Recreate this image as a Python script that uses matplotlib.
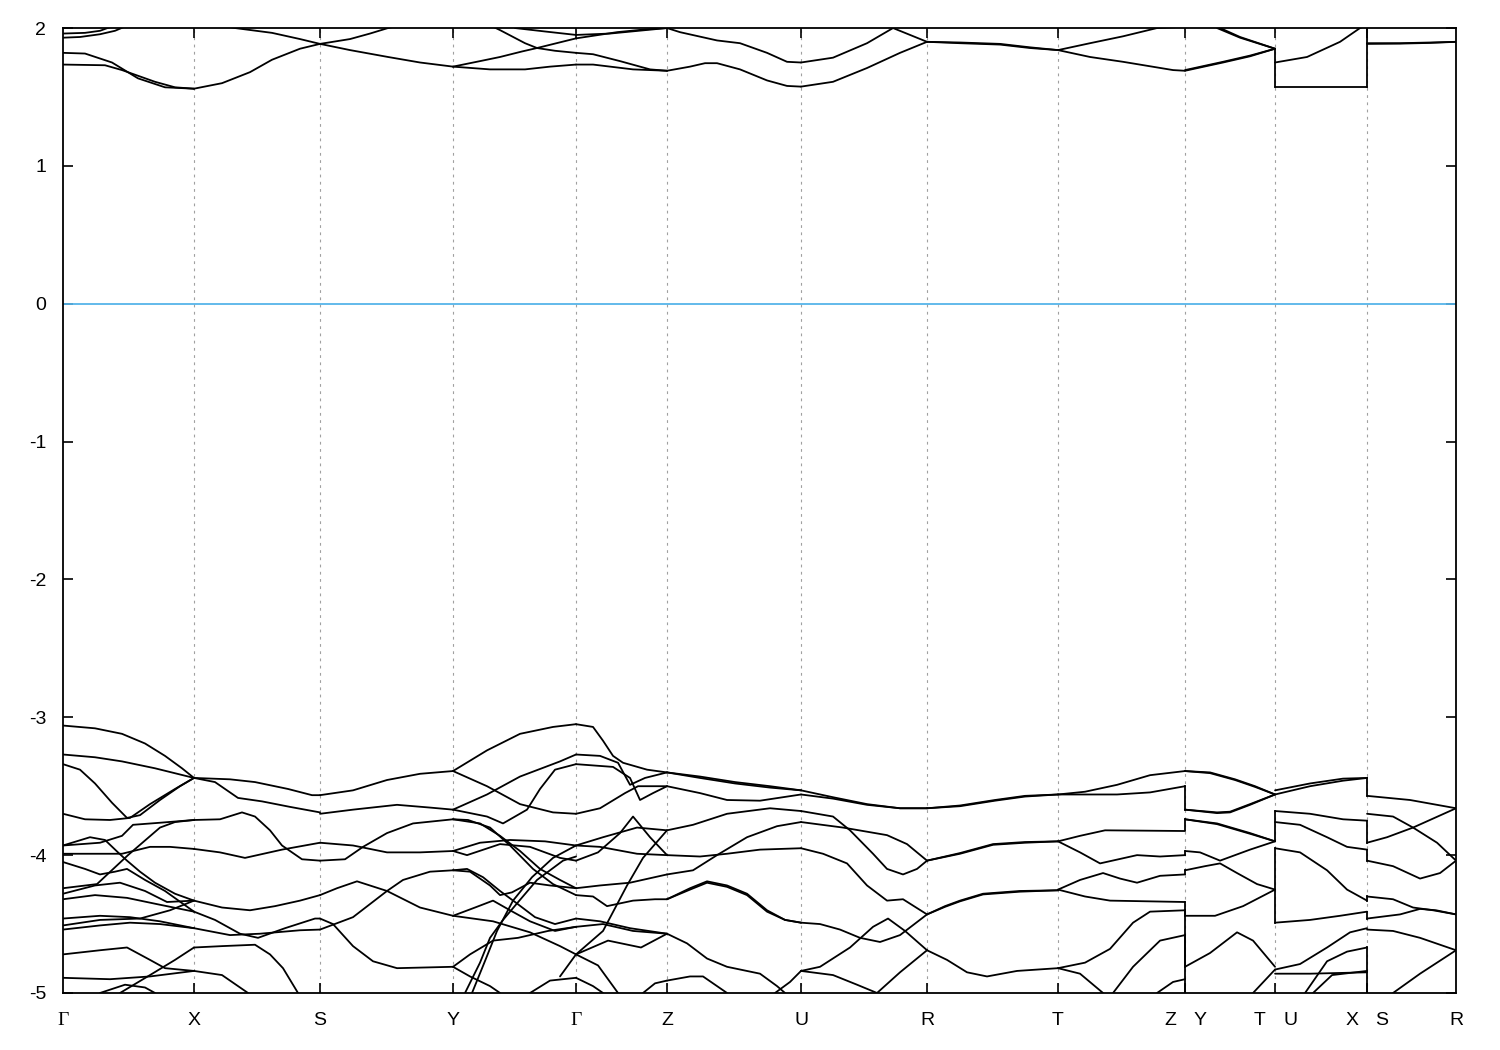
import matplotlib
matplotlib.use('Agg')
import matplotlib.pyplot as plt

# high-symmetry points along the k-path (path length units)
kpoints = [0.0, 1.31, 2.57, 3.90, 5.13, 6.04, 7.38, 8.64, 9.95, 11.22, 12.12, 13.04, 13.93]
klabels = ['Γ', 'X', 'S', 'Y', 'Γ', 'Z', 'U', 'R', 'T', 'Z|Y', 'T|U', 'X|S', 'R']

# bands per path segment, each band a list of (k, E)
bands_GX = [
    [(0, 1.96), (0.22, 1.965), (0.37, 1.98), (0.52, 2.02)],
    [(0, 1.93), (0.17, 1.935), (0.37, 1.955), (0.52, 1.98), (0.65, 2.02)],
    [(0, 1.82), (0.22, 1.815), (0.49, 1.75), (0.75, 1.635), (1.02, 1.57), (1.31, 1.56)],
    [(0, 1.735), (0.42, 1.73), (0.59, 1.695), (0.92, 1.61), (1.12, 1.57), (1.31, 1.56)],
    [(0, -3.06), (0.32, -3.08), (0.59, -3.12), (0.82, -3.19), (1.02, -3.28), (1.19, -3.37), (1.31, -3.44)],
    [(0, -3.27), (0.32, -3.29), (0.59, -3.32), (0.92, -3.37), (1.31, -3.44)],
    [(0, -3.34), (0.17, -3.38), (0.32, -3.48), (0.49, -3.62), (0.64, -3.73), (0.77, -3.71),
     (0.97, -3.60), (1.17, -3.50), (1.31, -3.44)],
    [(0, -3.70), (0.22, -3.74), (0.47, -3.745), (0.67, -3.73), (0.87, -3.63), (1.12, -3.52), (1.31, -3.44)],
    [(0, -3.93), (0.37, -3.91), (0.59, -3.86), (0.70, -3.78), (0.97, -3.765), (1.31, -3.745)],
    [(0, -4.24), (0.34, -4.21), (0.65, -4.00), (0.97, -3.80), (1.12, -3.76), (1.31, -3.745)],
    [(0, -3.93), (0.27, -3.87), (0.42, -3.89), (0.55, -3.98), (0.64, -4.04), (0.77, -4.12),
     (0.92, -4.20), (1.12, -4.28), (1.31, -4.33)],
    [(0, -3.99), (0.37, -3.99), (0.59, -3.99), (0.87, -3.94), (1.07, -3.94), (1.31, -3.955)],
    [(0, -4.05), (0.22, -4.10), (0.37, -4.14), (0.52, -4.12), (0.64, -4.10), (0.82, -4.18),
     (1.02, -4.26), (1.31, -4.41)],
    [(0, -4.28), (0.32, -4.22), (0.57, -4.20), (0.82, -4.26), (1.04, -4.34), (1.31, -4.33)],
    [(0, -4.32), (0.32, -4.29), (0.64, -4.31), (0.97, -4.36), (1.31, -4.41)],
    [(0, -4.46), (0.37, -4.44), (0.67, -4.45), (0.97, -4.48), (1.31, -4.53)],
    [(0, -4.51), (0.37, -4.47), (0.77, -4.46), (1.07, -4.40), (1.31, -4.33)],
    [(0, -4.54), (0.37, -4.51), (0.67, -4.49), (0.97, -4.50), (1.31, -4.53)],
    [(0, -4.72), (0.37, -4.69), (0.64, -4.67), (0.87, -4.76), (1.02, -4.82), (1.31, -4.84)],
    [(0.57, -5.0), (0.87, -4.87), (1.12, -4.76), (1.31, -4.67)],
    [(0, -4.89), (0.47, -4.90), (0.87, -4.88), (1.31, -4.84)],
    [(0.37, -5.0), (0.62, -4.94), (0.82, -4.96), (0.92, -5.0)],
]

bands_XS = [
    [(1.31, 1.56), (1.59, 1.60), (1.87, 1.68), (2.09, 1.77), (2.37, 1.85), (2.57, 1.885)],
    [(1.57, 2.02), (1.72, 2.0), (2.09, 1.965), (2.37, 1.92), (2.57, 1.885)],
    [(1.31, -3.44), (1.67, -3.45), (1.92, -3.47), (2.25, -3.52), (2.49, -3.565), (2.57, -3.565)],
    [(1.31, -3.44), (1.52, -3.47), (1.75, -3.585), (1.99, -3.61), (2.27, -3.65), (2.57, -3.69)],
    [(1.31, -3.745), (1.57, -3.74), (1.79, -3.69), (1.92, -3.72), (2.07, -3.82), (2.19, -3.93),
     (2.39, -4.03), (2.57, -4.04)],
    [(1.31, -3.955), (1.57, -3.98), (1.82, -4.02), (2.19, -3.96), (2.57, -3.91)],
    [(1.31, -4.33), (1.59, -4.38), (1.87, -4.40), (2.12, -4.37), (2.37, -4.33), (2.57, -4.29)],
    [(1.31, -4.41), (1.52, -4.47), (1.77, -4.57), (1.95, -4.60), (2.22, -4.53), (2.52, -4.46), (2.57, -4.46)],
    [(1.31, -4.53), (1.67, -4.58), (1.97, -4.57), (2.37, -4.545), (2.57, -4.54)],
    [(1.31, -4.67), (1.59, -4.66), (1.92, -4.65), (2.07, -4.72), (2.20, -4.82), (2.35, -5.0)],
    [(1.31, -4.84), (1.59, -4.87), (1.85, -5.0)],
]

bands_SY = [
    [(2.57, 1.885), (2.87, 1.92), (3.07, 1.96), (3.25, 2.0), (3.37, 2.02)],
    [(2.57, 1.885), (2.87, 1.84), (3.25, 1.79), (3.57, 1.75), (3.90, 1.72)],
    [(2.57, -3.565), (2.90, -3.53), (3.24, -3.455), (3.57, -3.41), (3.90, -3.39)],
    [(2.57, -3.70), (2.90, -3.67), (3.34, -3.635), (3.67, -3.655), (3.90, -3.67)],
    [(2.57, -3.91), (2.90, -3.93), (3.24, -3.98), (3.57, -3.98), (3.90, -3.97)],
    [(2.57, -4.04), (2.82, -4.03), (3.00, -3.94), (3.24, -3.84), (3.50, -3.77), (3.90, -3.74)],
    [(2.57, -4.29), (2.74, -4.24), (2.94, -4.19), (3.24, -4.26), (3.57, -4.38), (3.90, -4.44)],
    [(2.57, -4.54), (2.90, -4.45), (3.24, -4.26), (3.40, -4.18), (3.67, -4.12), (3.90, -4.11)],
    [(2.57, -4.46), (2.70, -4.50), (2.90, -4.66), (3.10, -4.77), (3.34, -4.82), (3.90, -4.81)],
]

bands_YG = [
    [(3.90, 1.72), (4.17, 1.76), (4.37, 1.79), (4.59, 1.83), (4.74, 1.855), (5.13, 1.925)],
    [(3.90, 1.72), (4.27, 1.70), (4.62, 1.70), (4.87, 1.72), (5.13, 1.735)],
    [(4.27, 2.02), (4.37, 1.985), (4.62, 1.89), (4.74, 1.855), (4.92, 1.835), (5.13, 1.82)],
    [(4.52, 2.0), (4.82, 1.975), (5.13, 1.95)],
    [(3.90, -3.39), (4.24, -3.24), (4.57, -3.12), (4.90, -3.07), (5.13, -3.05)],
    [(3.90, -3.39), (4.24, -3.50), (4.57, -3.63), (4.90, -3.69), (5.13, -3.70)],
    [(3.90, -3.67), (4.24, -3.56), (4.57, -3.43), (4.97, -3.32), (5.13, -3.27)],
    [(3.90, -3.67), (4.24, -3.72), (4.40, -3.77), (4.64, -3.67), (4.77, -3.52), (4.92, -3.38), (5.13, -3.34)],
    [(3.90, -3.74), (4.17, -3.77), (4.37, -3.86), (4.57, -3.97), (4.77, -4.10), (4.97, -4.18), (5.13, -4.24)],
    [(3.90, -3.74), (4.05, -3.745), (4.27, -3.80), (4.47, -3.93), (4.70, -4.10), (4.90, -4.21), (5.13, -4.29)],
    [(3.90, -3.97), (4.04, -4.00), (4.37, -3.92), (4.67, -3.94), (4.97, -4.02), (5.13, -4.04)],
    [(3.90, -3.97), (4.17, -3.91), (4.47, -3.89), (4.82, -3.90), (5.13, -3.93)],
    [(3.90, -4.11), (4.04, -4.10), (4.20, -4.16), (4.37, -4.26), (4.52, -4.34), (4.72, -4.45),
     (4.92, -4.50), (5.13, -4.46)],
    [(3.90, -4.11), (4.07, -4.12), (4.27, -4.22), (4.37, -4.29), (4.49, -4.27), (4.67, -4.20),
     (4.87, -4.22), (5.13, -4.24)],
    [(3.90, -4.44), (4.12, -4.38), (4.30, -4.33), (4.47, -4.40), (4.67, -4.48), (4.92, -4.55), (5.13, -4.52)],
    [(3.90, -4.44), (4.30, -4.48), (4.67, -4.56), (4.97, -4.66), (5.13, -4.72)],
    [(3.90, -4.81), (4.07, -4.72), (4.30, -4.62), (4.55, -4.60), (4.85, -4.55), (5.13, -4.52)],
    [(3.90, -4.81), (4.07, -4.88), (4.27, -4.95), (4.37, -5.0)],
    [(4.02, -5.0), (4.17, -4.78), (4.27, -4.60), (4.40, -4.47), (4.54, -4.35), (4.74, -4.18),
     (5.00, -4.04), (5.13, -4.01)],
    [(4.09, -5.0), (4.23, -4.75), (4.34, -4.55), (4.50, -4.33), (4.69, -4.16), (4.90, -4.02), (5.13, -3.93)],
    [(4.67, -5.0), (4.87, -4.91), (5.13, -4.89)],
]

bands_GZ = [
    [(5.13, 1.925), (5.54, 1.97), (5.82, 1.99), (6.04, 2.0)],
    [(5.13, 1.95), (5.47, 1.96), (6.04, 2.0)],
    [(5.13, 1.82), (5.30, 1.81), (5.57, 1.76), (5.87, 1.70), (6.04, 1.69)],
    [(5.13, 1.735), (5.30, 1.735), (5.70, 1.70), (6.04, 1.69)],
    [(5.13, -3.05), (5.30, -3.07), (5.40, -3.17), (5.50, -3.28), (5.60, -3.33), (5.84, -3.38), (6.04, -3.40)],
    [(5.13, -3.27), (5.37, -3.28), (5.55, -3.33), (5.67, -3.49), (5.82, -3.44), (6.04, -3.40)],
    [(5.13, -3.34), (5.50, -3.36), (5.67, -3.44), (5.77, -3.60), (5.90, -3.55), (6.04, -3.50)],
    [(5.13, -3.70), (5.37, -3.66), (5.62, -3.55), (5.75, -3.50), (6.04, -3.50)],
    [(5.13, -3.93), (5.40, -3.87), (5.74, -3.80), (6.04, -3.82)],
    [(5.13, -3.93), (5.37, -3.94), (5.74, -3.99), (6.04, -4.00)],
    [(5.13, -4.04), (5.35, -3.98), (5.57, -3.84), (5.70, -3.72), (5.87, -3.87), (6.04, -4.00)],
    [(5.13, -4.24), (5.37, -4.22), (5.67, -4.20), (6.04, -4.14)],
    [(5.13, -4.29), (5.30, -4.30), (5.44, -4.37), (5.70, -4.33), (5.92, -4.32), (6.04, -4.32)],
    [(4.97, -4.88), (5.13, -4.72), (5.40, -4.55), (5.64, -4.22), (5.80, -4.02), (6.04, -3.82)],
    [(5.13, -4.46), (5.37, -4.48), (5.67, -4.53), (6.04, -4.57)],
    [(5.13, -4.52), (5.40, -4.50), (5.70, -4.55), (6.04, -4.57)],
    [(5.13, -4.72), (5.45, -4.62), (5.78, -4.67), (6.04, -4.57)],
    [(5.13, -4.72), (5.35, -4.80), (5.55, -5.0)],
    [(5.13, -4.89), (5.30, -4.95), (5.40, -5.0)],
    [(5.80, -5.0), (5.92, -4.93), (6.04, -4.91)],
]

bands_ZU = [
    [(6.04, 1.69), (6.27, 1.72), (6.42, 1.745), (6.54, 1.745), (6.77, 1.70), (7.04, 1.62), (7.24, 1.58), (7.38, 1.575)],
    [(6.04, 2.0), (6.17, 1.97), (6.54, 1.91), (6.77, 1.89), (7.04, 1.82), (7.24, 1.755), (7.38, 1.75)],
    [(6.04, -3.40), (6.37, -3.43), (6.72, -3.47), (7.07, -3.50), (7.38, -3.53)],
    [(6.04, -3.40), (6.37, -3.44), (6.72, -3.48), (7.07, -3.51), (7.38, -3.53)],
    [(6.04, -3.50), (6.37, -3.55), (6.64, -3.60), (6.97, -3.605), (7.38, -3.56)],
    [(6.04, -3.82), (6.30, -3.78), (6.64, -3.70), (7.07, -3.66), (7.38, -3.68)],
    [(6.04, -4.00), (6.37, -4.01), (6.64, -3.99), (6.97, -3.96), (7.38, -3.95)],
    [(6.04, -4.14), (6.30, -4.11), (6.54, -4.00), (6.84, -3.87), (7.14, -3.79), (7.38, -3.76)],
    [(6.04, -4.32), (6.27, -4.24), (6.44, -4.19), (6.64, -4.22), (6.84, -4.28), (7.04, -4.40),
     (7.22, -4.47), (7.38, -4.49)],
    [(6.04, -4.32), (6.27, -4.25), (6.44, -4.20), (6.64, -4.23), (6.84, -4.29), (7.04, -4.41),
     (7.22, -4.47), (7.38, -4.49)],
    [(6.04, -4.57), (6.24, -4.64), (6.44, -4.75), (6.64, -4.81), (6.97, -4.86), (7.14, -4.95), (7.22, -5.0)],
    [(7.12, -5.0), (7.27, -4.92), (7.38, -4.84)],
    [(6.04, -4.91), (6.27, -4.88), (6.40, -4.88), (6.64, -5.0)],
]

bands_UR = [
    [(7.38, 1.575), (7.70, 1.61), (8.04, 1.71), (8.37, 1.82), (8.64, 1.90)],
    [(7.38, 1.75), (7.70, 1.785), (8.04, 1.89), (8.30, 2.0), (8.47, 1.95), (8.64, 1.90)],
    [(7.38, -3.53), (7.70, -3.58), (8.04, -3.63), (8.37, -3.66), (8.64, -3.66)],
    [(7.38, -3.56), (7.70, -3.59), (8.04, -3.635), (8.37, -3.66), (8.64, -3.66)],
    [(7.38, -3.68), (7.70, -3.72), (7.87, -3.82), (8.10, -3.99), (8.24, -4.10), (8.40, -4.14),
     (8.54, -4.10), (8.64, -4.04)],
    [(7.38, -3.76), (7.80, -3.80), (8.24, -3.855), (8.44, -3.92), (8.64, -4.04)],
    [(7.38, -3.95), (7.60, -3.99), (7.84, -4.06), (8.04, -4.22), (8.24, -4.33), (8.40, -4.32), (8.64, -4.43)],
    [(7.38, -4.49), (7.57, -4.50), (7.77, -4.54), (7.97, -4.60), (8.17, -4.63), (8.37, -4.58), (8.64, -4.43)],
    [(7.38, -4.84), (7.57, -4.81), (7.87, -4.67), (8.10, -4.52), (8.25, -4.46), (8.42, -4.55), (8.64, -4.69)],
    [(7.38, -4.84), (7.70, -4.87), (7.94, -4.94), (8.14, -5.0), (8.37, -4.85), (8.64, -4.69)],
]

bands_RT = [
    [(8.64, 1.90), (8.97, 1.895), (9.37, 1.885), (9.67, 1.86), (9.95, 1.84)],
    [(8.64, 1.90), (8.97, 1.89), (9.37, 1.88), (9.67, 1.855), (9.95, 1.84)],
    [(8.64, -3.66), (8.97, -3.64), (9.32, -3.60), (9.62, -3.57), (9.95, -3.56)],
    [(8.64, -3.66), (8.97, -3.645), (9.32, -3.605), (9.62, -3.575), (9.95, -3.56)],
    [(8.64, -4.04), (8.97, -3.985), (9.30, -3.92), (9.62, -3.905), (9.95, -3.90)],
    [(8.64, -4.04), (8.97, -3.99), (9.30, -3.925), (9.62, -3.91), (9.95, -3.90)],
    [(8.64, -4.43), (8.82, -4.37), (8.97, -4.33), (9.20, -4.28), (9.57, -4.26), (9.95, -4.255)],
    [(8.64, -4.43), (8.82, -4.375), (8.97, -4.335), (9.20, -4.285), (9.57, -4.265), (9.95, -4.255)],
    [(8.64, -4.69), (8.84, -4.76), (9.04, -4.85), (9.24, -4.88), (9.54, -4.84), (9.95, -4.82)],
]

bands_TZ = [
    [(9.95, 1.84), (10.27, 1.89), (10.60, 1.94), (10.94, 2.0), (11.22, 2.01)],
    [(9.95, 1.84), (10.27, 1.79), (10.60, 1.755), (11.10, 1.695), (11.22, 1.69)],
    [(9.95, -3.56), (10.22, -3.54), (10.54, -3.49), (10.87, -3.42), (11.22, -3.39)],
    [(9.95, -3.56), (10.54, -3.56), (10.87, -3.545), (11.22, -3.50)],
    [(9.95, -3.90), (10.17, -3.86), (10.42, -3.82), (11.22, -3.825)],
    [(9.95, -3.90), (10.17, -3.98), (10.37, -4.06), (10.74, -4.00), (10.97, -4.01), (11.22, -4.00)],
    [(9.95, -4.25), (10.17, -4.18), (10.40, -4.13), (10.57, -4.17), (10.74, -4.20), (10.97, -4.15), (11.22, -4.14)],
    [(9.95, -4.25), (10.22, -4.30), (10.47, -4.33), (11.22, -4.34)],
    [(9.95, -4.82), (10.22, -4.78), (10.47, -4.68), (10.70, -4.49), (10.87, -4.41), (11.22, -4.40)],
    [(9.95, -4.82), (10.17, -4.86), (10.40, -5.0)],
    [(10.50, -5.0), (10.70, -4.81), (10.97, -4.62), (11.22, -4.58)],
    [(10.94, -5.0), (11.10, -4.92), (11.22, -4.90)],
]

bands_YT = [
    [(11.22, 1.695), (11.60, 1.755), (11.87, 1.80), (12.12, 1.85)],
    [(11.22, 1.69), (11.60, 1.75), (11.87, 1.795), (12.12, 1.85)],
    [(11.54, 2.0), (11.77, 1.93), (12.12, 1.85)],
    [(11.54, 2.01), (11.77, 1.935), (12.12, 1.85)],
    [(11.22, -3.39), (11.47, -3.40), (11.72, -3.45), (11.92, -3.50), (12.12, -3.56)],
    [(11.22, -3.39), (11.47, -3.405), (11.72, -3.455), (11.92, -3.505), (12.12, -3.56)],
    [(11.22, -3.67), (11.54, -3.69), (11.67, -3.685), (11.87, -3.63), (12.12, -3.56)],
    [(11.22, -3.67), (11.54, -3.695), (11.67, -3.69), (11.87, -3.635), (12.12, -3.56)],
    [(11.22, -3.74), (11.54, -3.77), (11.87, -3.84), (12.12, -3.90)],
    [(11.22, -3.74), (11.54, -3.775), (11.87, -3.845), (12.12, -3.90)],
    [(11.22, -3.97), (11.37, -3.98), (11.57, -4.04), (11.87, -3.96), (12.12, -3.90)],
    [(11.22, -4.11), (11.42, -4.08), (11.57, -4.06), (11.74, -4.13), (11.94, -4.21), (12.12, -4.25)],
    [(11.22, -4.44), (11.52, -4.44), (11.80, -4.37), (12.12, -4.25)],
    [(11.22, -4.81), (11.47, -4.71), (11.74, -4.56), (11.90, -4.62), (12.12, -4.81)],
    [(11.90, -5.0), (12.12, -4.83)],
]

bands_UX = [
    [(12.12, 1.75), (12.44, 1.79), (12.77, 1.90), (12.97, 2.0), (13.04, 2.02)],
    [(12.12, 1.575), (13.04, 1.575)],
    [(12.12, -3.53), (12.47, -3.48), (12.80, -3.445), (13.04, -3.44)],
    [(12.12, -3.56), (12.47, -3.50), (12.80, -3.46), (13.04, -3.44)],
    [(12.12, -3.68), (12.47, -3.70), (12.80, -3.74), (13.04, -3.75)],
    [(12.12, -3.76), (12.37, -3.78), (12.64, -3.87), (12.84, -3.94), (13.04, -3.96)],
    [(12.12, -3.95), (12.37, -3.98), (12.64, -4.11), (12.84, -4.25), (13.04, -4.33)],
    [(12.12, -4.49), (12.47, -4.47), (12.77, -4.44), (13.04, -4.41)],
    [(12.12, -4.83), (12.37, -4.79), (12.64, -4.67), (12.87, -4.56), (13.04, -4.53)],
    [(12.12, -4.86), (12.47, -4.86), (13.04, -4.85)],
    [(12.42, -5.0), (12.64, -4.77), (12.84, -4.70), (13.04, -4.67)],
    [(12.50, -5.0), (12.69, -4.87), (13.04, -4.84)],
]

bands_SR = [
    [(13.04, 1.89), (13.37, 1.89), (13.67, 1.895), (13.93, 1.90)],
    [(13.04, 1.885), (13.37, 1.887), (13.67, 1.892), (13.93, 1.90)],
    [(13.04, -3.57), (13.47, -3.60), (13.70, -3.63), (13.93, -3.66)],
    [(13.04, -3.70), (13.30, -3.72), (13.50, -3.80), (13.74, -3.91), (13.93, -4.04)],
    [(13.04, -3.91), (13.24, -3.87), (13.50, -3.80), (13.93, -3.66)],
    [(13.04, -4.04), (13.30, -4.08), (13.57, -4.17), (13.77, -4.13), (13.93, -4.04)],
    [(13.04, -4.30), (13.30, -4.32), (13.50, -4.38), (13.70, -4.40), (13.93, -4.43)],
    [(13.04, -4.46), (13.37, -4.43), (13.57, -4.39), (13.73, -4.40), (13.93, -4.43)],
    [(13.04, -4.54), (13.30, -4.55), (13.57, -4.60), (13.93, -4.69)],
    [(13.30, -5.0), (13.57, -4.86), (13.93, -4.69)],
]

# band connections drawn across the path discontinuities (E at left, E at right)
jumps_ZY = [(-3.50, -3.67), (-3.82, -3.74), (-4.00, -3.97), (-4.14, -4.11),
            (-4.34, -4.44), (-4.40, -4.81), (-4.58, -5.0)]
jumps_TU = [(1.575, 1.85), (-3.68, -3.90), (-3.95, -4.49)]
jumps_XS = [(1.575, 2.05), (-3.44, -3.57), (-3.75, -3.91), (-3.96, -4.04),
            (-4.33, -4.30), (-4.41, -4.46), (-4.67, -5.0)]

fermi_level = 0.0

BAND_COLOR = 'black'
FERMI_COLOR = '#56b4e9'
GRID_COLOR = '#a0a0a0'

plt.rcParams['font.family'] = ['Liberation Sans', 'DejaVu Sans']
plt.rcParams['axes.unicode_minus'] = False

figure = plt.figure(figsize=(15, 10.5), dpi=100)
ax = figure.add_axes([0.042, 0.0543, 0.9287, 0.919])

segments = [bands_GX, bands_XS, bands_SY, bands_YG, bands_GZ, bands_ZU,
            bands_UR, bands_RT, bands_TZ, bands_YT, bands_UX, bands_SR]
for segment in segments:
    for band in segment:
        k_values = [p[0] for p in band]
        energies = [p[1] for p in band]
        ax.plot(k_values, energies, color=BAND_COLOR, linewidth=1.3,
                solid_joinstyle='round', solid_capstyle='round')

for k_break, jumps in zip(kpoints[9:12], [jumps_ZY, jumps_TU, jumps_XS]):
    for e_low, e_high in jumps:
        ax.plot([k_break, k_break], [e_low, e_high], color=BAND_COLOR, linewidth=1.3)

ax.axhline(fermi_level, color=FERMI_COLOR, linewidth=1.3)

for k in kpoints[1:-1]:
    ax.axvline(k, color=GRID_COLOR, linewidth=0.8, dashes=(2.5, 4), zorder=0)

ax.set_xlim(kpoints[0], kpoints[-1])
ax.set_ylim(-5, 2)

# major ticks: tick marks only; minor ticks: the labels (split at discontinuities)
ax.xaxis.remove_overlapping_locs = False
ax.set_xticks(kpoints[1:-1])
ax.set_xticklabels([])
label_positions = []
label_texts = []
for k, label in zip(kpoints, klabels):
    if '|' in label:
        left, right = label.split('|')
        label_positions += [k - 0.15, k + 0.15]
        label_texts += [left, right]
    else:
        label_positions.append(k)
        label_texts.append(label)
ax.set_xticks(label_positions, minor=True)
ax.set_xticklabels(label_texts, minor=True)
for text in ax.get_xticklabels(minor=True):
    if text.get_text() == 'Γ':
        text.set_fontfamily(['Liberation Serif', 'DejaVu Serif'])

ax.set_yticks(range(-5, 3))
ax.tick_params(axis='x', which='major', direction='in', length=7, width=1.2, top=True, bottom=True)
ax.tick_params(axis='x', which='minor', length=0, pad=14, labelsize=14)
ax.tick_params(axis='y', direction='in', length=7, width=1.2, left=True, right=True,
               labelsize=14, pad=12)

for spine in ax.spines.values():
    spine.set_linewidth(1.3)

figure.savefig('out.png', dpi=100)
plt.close(figure)
